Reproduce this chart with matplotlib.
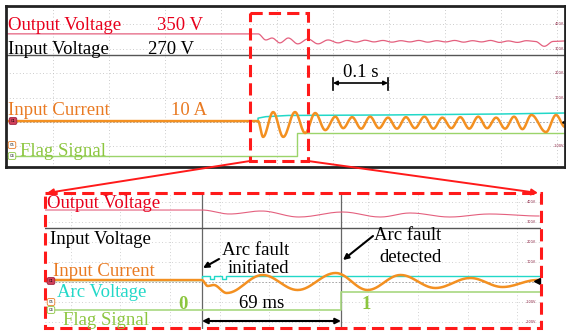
import numpy as np
import matplotlib.pyplot as plt
from matplotlib.patches import Rectangle

plt.rcParams['font.family'] = ['Liberation Serif', 'DejaVu Serif']

# ---- datos leídos de la captura del osciloscopio (t en ms, señales en V de pantalla) ----
# panel superior
out_t = [-84, 366, 380, 391, 405, 420, 437, 455, 473, 491, 509, 525, 541, 557, 573, 589, 605, 621,
         637, 653, 669, 685, 701, 717, 733, 749, 765, 781, 797, 813, 829, 845, 861, 877, 893, 914]
out_v = [361, 361, 336, 344, 324, 344, 320, 340, 320, 336, 324, 334, 327, 335, 328, 334, 327, 333,
         328, 334, 327, 333, 328, 334, 327, 333, 328, 334, 326, 332, 326, 333, 330, 310, 330, 332]
vin_t = [-84, 914]
vin_v = [275, 275]
cur_t = [-84, 366, 375, 393, 411, 432, 450, 468, 486, 504, 518, 534, 550, 566, 582, 598, 614, 630,
         646, 663, 679, 695, 711, 727, 743, 759, 775, 791, 807, 823, 838, 854, 880, 898, 914]
cur_v = [4, 4, -61, 41, -61, 41, -45, 37, -33, 22, -25, 20, -27, 22, -25, 18, -27, 20,
         -25, 22, -27, 18, -25, 20, -27, 22, -25, 18, -27, 22, -29, 29, -41, 29, -20]
arc_t = [-84, 366, 366, 380, 420, 600, 800, 914]
arc_v = [4, 4, 16, 22, 27, 29, 33, 37]
flag_t = [-84, 436, 436, 914]
flag_v = [-139, -139, -45, -45]

# panel inferior (zoom)
z_out_t = [287, 366, 380, 396, 415, 437, 456, 471, 491, 511, 536]
z_out_v = [360, 360, 340, 355, 325, 350, 325, 345, 325, 340, 330]
z_vin_t = [287, 537]
z_vin_v = [270, 270]
z_cur_t = [287, 366, 369, 372, 378.6, 396.7, 414.3, 433.5, 449.6, 466.2, 483.8, 501.4, 517.6, 535.2]
z_cur_v = [10, 10, -20, -15, -55, 35, -40, 45, -40, 35, -30, 20, -25, 10]
z_arc_t = [287, 366, 366, 370, 370, 372, 372, 376, 376, 378, 378, 537]
z_arc_v = [10, 10, 30, 30, 15, 15, 30, 30, 15, 15, 28, 28]
z_flag_t = [287, 436, 436, 537]
z_flag_v = [-140, -140, -50, -50]

top_ticks = [400, 300, 200, 100, -100]
bot_ticks = [400, 300, 200, 100, -100, -200]

c_red, c_org, c_grn, c_cyan = '#e8001c', '#e97a22', '#8cc63f', '#22d8c8'


def smooth(ts, vs, n=16):
    # une los extremos leídos con medios cosenos
    tt, vv = [ts[0]], [vs[0]]
    for i in range(len(ts) - 1):
        s = np.linspace(0, 1, n)[1:]
        tt += list(ts[i] + (ts[i + 1] - ts[i]) * s)
        vv += list(vs[i] + (vs[i + 1] - vs[i]) * (1 - np.cos(np.pi * s)) / 2)
    return tt, vv


W, H = 566, 331
fig = plt.figure(figsize=(W / 100, H / 100), dpi=100)


def px_axes(l, t, r, b):
    return fig.add_axes([l / W, 1 - b / H, (r - l) / W, (b - t) / H])


# ---- panel superior ----
ax1 = px_axes(6, 6, 565, 167)
ax1.set_xlim(-84, 914)
ax1.set_ylim(-184, 475)
ax1.set_xticks(range(0, 901, 100))
ax1.set_yticks(top_ticks)
ax1.grid(ls=(0, (1, 3)), color='#bbbbbb', lw=0.6)
ax1.tick_params(length=0, labelbottom=False, labelleft=False)
for s in ax1.spines.values():
    s.set_linewidth(2)
    s.set_color('#222222')
ax1.axhline(0, ls=(0, (2, 2)), color='#999999', lw=0.6)
ax1.plot(*smooth(out_t, out_v), color='#e4607e', lw=0.9)
ax1.plot(vin_t, vin_v, color='#555555', lw=1.0)
ax1.plot(arc_t, arc_v, color=c_cyan, lw=1.1)
ax1.plot(flag_t, flag_v, color='#9bd46a', lw=1.0)
ax1.plot(*smooth(cur_t, cur_v), color='#f39021', lw=1.8)
ax1.plot(cur_t[-1], 0, marker='<', color='k', ms=4, clip_on=False)
for v in top_ticks:
    ax1.text(0.998, v, f'{v}V', transform=ax1.get_yaxis_transform(), fontsize=2.5,
             color='#8b2040', ha='right', va='center', family='DejaVu Sans')

# ---- panel inferior ----
ax2 = px_axes(45, 193, 541, 329)
ax2.set_xlim(287, 537)
ax2.set_ylim(-235, 445)
ax2.set_xticks(range(300, 536, 25))
ax2.set_yticks(bot_ticks)
ax2.grid(ls=(0, (1, 3)), color='#c4c4c4', lw=0.6)
ax2.tick_params(length=0, labelbottom=False, labelleft=False)
for s in ax2.spines.values():
    s.set_visible(False)
ax2.axhline(0, ls=(0, (2, 2)), color='#999999', lw=0.6)
ax2.axvline(366, color='#666666', lw=0.9)
ax2.axvline(436, color='#666666', lw=0.9)
ax2.plot(*smooth(z_out_t, z_out_v), color='#e4607e', lw=0.8)
ax2.plot(z_vin_t, z_vin_v, color='#555555', lw=1.0)
ax2.plot(z_arc_t, z_arc_v, color=c_cyan, lw=1.0)
ax2.plot(z_flag_t, z_flag_v, color='#a8d880', lw=1.2)
ax2.plot(*smooth(z_cur_t, z_cur_v), color='#f39021', lw=1.8)
ax2.plot(z_cur_t[-1], 5, marker='<', color='k', ms=4, clip_on=False)
for v in bot_ticks:
    ax2.text(0.99, v, f'{v}V', transform=ax2.get_yaxis_transform(), fontsize=2.5,
             color='#8b2040', ha='right', va='center', family='DejaVu Sans')

# ---- capa de anotaciones en píxeles ----
ax = fig.add_axes([0, 0, 1, 1], zorder=10)
ax.set_xlim(0, W)
ax.set_ylim(H, 0)
ax.axis('off')
ax.patch.set_alpha(0)

fs = 13.5
ax.text(8, 30, 'Output Voltage', color=c_red, fontsize=fs)
ax.text(157, 30, '350 V', color=c_red, fontsize=fs)
ax.text(8, 54, 'Input Voltage', color='black', fontsize=fs)
ax.text(148, 54, '270 V', color='black', fontsize=fs)
ax.text(8, 115, 'Input Current', color=c_org, fontsize=fs)
ax.text(171, 115, '10 A', color=c_org, fontsize=fs)
ax.text(20, 156, 'Flag Signal', color=c_grn, fontsize=fs)
ax.text(361, 77, '0.1 s', color='black', fontsize=fs, ha='center')
ax.annotate('', xy=(388, 83), xytext=(333, 83),
            arrowprops=dict(arrowstyle='<|-|>', color='black', lw=1.2, mutation_scale=6,
                            shrinkA=0, shrinkB=0))
ax.plot([333, 333], [78, 90], color='black', lw=1.2)
ax.plot([388, 388], [78, 90], color='black', lw=1.2)

ax.text(47, 208, 'Output Voltage', color=c_red, fontsize=fs)
ax.text(50, 244, 'Input Voltage', color='black', fontsize=fs)
ax.text(53, 276, 'Input Current', color=c_org, fontsize=fs)
ax.text(57, 297, 'Arc Voltage', color=c_cyan, fontsize=fs)
ax.text(63, 325, 'Flag Signal', color=c_grn, fontsize=fs)
ax.text(183, 309, '0', color=c_grn, fontsize=fs, fontweight='bold', ha='center')
ax.text(366, 309, '1', color=c_grn, fontsize=fs, fontweight='bold', ha='center')
ax.text(256, 255, 'Arc fault', color='black', fontsize=fs, ha='center')
ax.text(258, 273, 'initiated', color='black', fontsize=fs, ha='center')
ax.text(408, 240, 'Arc fault', color='black', fontsize=fs, ha='center')
ax.text(410, 262, 'detected', color='black', fontsize=fs, ha='center')
ax.text(262, 308, '69 ms', color='black', fontsize=fs, ha='center')
ax.annotate('', xy=(341, 321), xytext=(202, 321),
            arrowprops=dict(arrowstyle='<|-|>', color='black', lw=1.5, mutation_scale=8,
                            shrinkA=0, shrinkB=0))
ax.annotate('', xy=(203, 268), xytext=(219, 259),
            arrowprops=dict(arrowstyle='-|>', color='black', lw=1.5, mutation_scale=8,
                            shrinkA=0, shrinkB=0))
ax.annotate('', xy=(343, 260), xytext=(373, 236),
            arrowprops=dict(arrowstyle='-|>', color='black', lw=1.5, mutation_scale=8,
                            shrinkA=0, shrinkB=0))

# marcadores de canal
for x, y, lab, fc, ec in [(13, 121, 'C1', '#d0405a', '#a02040'), (12, 145, 'C5', 'white', c_org),
                          (12, 156, 'C4', 'white', c_grn), (51, 281, 'C1', '#d0405a', '#a02040'),
                          (51, 302, 'C5', 'white', c_org), (51, 310, 'C4', 'white', c_grn)]:
    ax.text(x, y, lab, fontsize=2.5, ha='center', va='center', family='DejaVu Sans',
            bbox=dict(boxstyle='round,pad=0.4', fc=fc, ec=ec, lw=0.6))

# recuadros discontinuos y conectores
ax.add_patch(Rectangle((250, 13), 58, 148, fill=False, ec='#ff1a1a', lw=2.2, ls=(0, (4, 2))))
ax.add_patch(Rectangle((45, 193), 496, 135, fill=False, ec='#ff1a1a', lw=2.2, ls=(0, (4, 2))))
ax.annotate('', xy=(47, 193), xytext=(250, 161),
            arrowprops=dict(arrowstyle='-|>', color='#ff1a1a', lw=1.4, mutation_scale=9,
                            shrinkA=0, shrinkB=0))
ax.annotate('', xy=(538, 193), xytext=(308, 161),
            arrowprops=dict(arrowstyle='-|>', color='#ff1a1a', lw=1.4, mutation_scale=9,
                            shrinkA=0, shrinkB=0))

fig.savefig('out.png', dpi=100)
